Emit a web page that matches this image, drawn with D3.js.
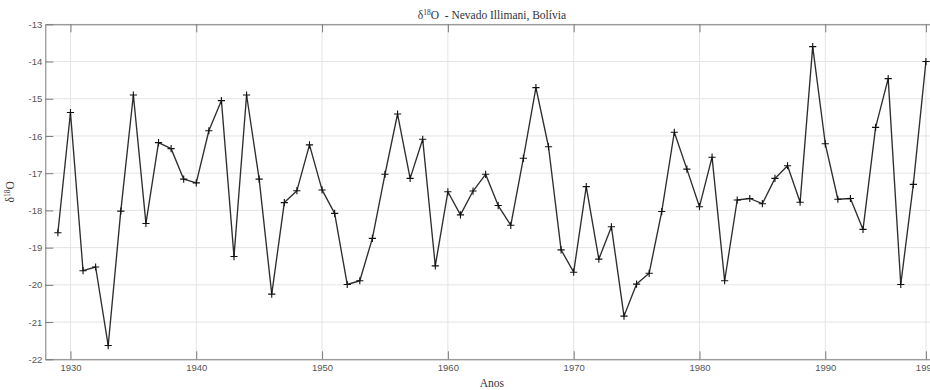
<!DOCTYPE html>
<html>
<head>
<meta charset="utf-8">
<script src="https://cdn.jsdelivr.net/npm/d3@7"></script>
<style>
  html, body { margin: 0; padding: 0; background: #fff; }
  svg { display: block; }
  .tick text { font-family: "Liberation Sans", Arial, sans-serif; font-size: 9.5px; fill: #555; }
  .serif { font-family: "Liberation Serif", "Times New Roman", serif; fill: #333; white-space: pre; }
</style>
</head>
<body>
<svg id="chart" width="930" height="390"></svg>
<script>
// Annual δ18O record, Nevado Illimani ice core (‰)
const years = d3.range(1929, 1999);
const d18O = [
  -18.60, -15.37, -19.62, -19.52, -21.63, -18.02, -14.90, -18.35, -16.18, -16.34,
  -17.16, -17.26, -15.86, -15.05, -19.24, -14.90, -17.16, -20.25, -17.79, -17.47,
  -16.24, -17.45, -18.08, -19.99, -19.89, -18.75, -17.03, -15.41, -17.14, -16.09,
  -19.49, -17.50, -18.12, -17.48, -17.03, -17.87, -18.40, -16.60, -14.70, -16.29,
  -19.06, -19.66, -17.36, -19.31, -18.44, -20.84, -19.98, -19.69, -18.03, -15.90,
  -16.89, -17.90, -16.57, -19.89, -17.72, -17.68, -17.82, -17.14, -16.80, -17.78,
  -13.60, -16.21, -17.70, -17.68, -18.51, -15.77, -14.46, -19.99, -17.30, -14.00
];
const xTicks = [1930, 1940, 1950, 1960, 1970, 1980, 1990, 1998];
const yTicks = [-22, -21, -20, -19, -18, -17, -16, -15, -14, -13];

const svg = d3.select("#chart");
const m = { left: 45.3, top: 24.3, right: 938.5, bottom: 359.3 };

const x = d3.scaleLinear().domain([1928, 1999]).range([m.left, m.right]);
const y = d3.scaleLinear().domain([-22, -13]).range([m.bottom, m.top]);

// grid
const grid = svg.append("g");
grid.selectAll(".gx").data(xTicks).join("line")
  .attr("x1", d => x(d)).attr("x2", d => x(d))
  .attr("y1", m.top).attr("y2", m.bottom)
  .attr("stroke", "#e4e4e4").attr("stroke-width", 1);
grid.selectAll(".gy").data(yTicks).join("line")
  .attr("x1", m.left).attr("x2", m.right)
  .attr("y1", d => y(d)).attr("y2", d => y(d))
  .attr("stroke", "#e4e4e4").attr("stroke-width", 1);

// axes with inward ticks
const tickLen = 8;
const axColor = "#7a7a7a";
const xAxis = svg.append("g").attr("transform", `translate(0,${m.bottom})`)
  .call(d3.axisBottom(x).tickValues(xTicks).tickFormat(d3.format("d"))
    .tickSizeInner(-tickLen).tickSizeOuter(0).tickPadding(5));
const xTop = svg.append("g").attr("transform", `translate(0,${m.top})`)
  .call(d3.axisTop(x).tickValues(xTicks).tickFormat("")
    .tickSizeInner(-tickLen).tickSizeOuter(0));
const yAxis = svg.append("g").attr("transform", `translate(${m.left},0)`)
  .call(d3.axisLeft(y).tickValues(yTicks).tickFormat(d => String(d).replace("−", "-"))
    .tickSizeInner(-tickLen).tickSizeOuter(0).tickPadding(3));
[xAxis, xTop, yAxis].forEach(g => {
  g.select(".domain").attr("stroke", axColor).attr("stroke-width", 1);
  g.selectAll(".tick line").attr("stroke", axColor).attr("stroke-width", 1);
});

// series line
const pts = years.map((yr, i) => [yr, d18O[i]]);
svg.append("path")
  .datum(pts)
  .attr("fill", "none")
  .attr("stroke", "#2e2e2e")
  .attr("stroke-width", 1.35)
  .attr("stroke-linejoin", "round")
  .attr("d", d3.line().x(d => x(d[0])).y(d => y(d[1])));

// plus markers
const s = 3.6;
svg.append("g").selectAll("path").data(pts).join("path")
  .attr("d", d => {
    const cx = x(d[0]), cy = y(d[1]);
    return `M${cx - s},${cy}H${cx + s}M${cx},${cy - s}V${cy + s}`;
  })
  .attr("stroke", "#111").attr("stroke-width", 1.1).attr("fill", "none");

// title
const cx = (m.left + m.right) / 2;
const title = svg.append("text").attr("class", "serif")
  .attr("x", cx).attr("y", 19).attr("text-anchor", "middle")
  .style("font-size", "11.5px");
title.append("tspan").text("δ");
title.append("tspan").attr("dy", -4).style("font-size", "7.5px").text("18");
title.append("tspan").attr("dy", 4).text("O  - Nevado Illimani, Bolívia");

// axis labels
svg.append("text").attr("class", "serif")
  .attr("x", cx).attr("y", 387).attr("text-anchor", "middle")
  .style("font-size", "11.5px").text("Anos");

const yl = svg.append("text").attr("class", "serif")
  .attr("transform", `translate(14,${(m.top + m.bottom) / 2}) rotate(-90)`)
  .attr("text-anchor", "middle").style("font-size", "11.5px");
yl.append("tspan").text("δ");
yl.append("tspan").attr("dy", -4).style("font-size", "7.5px").text("18");
yl.append("tspan").attr("dy", 4).text("O");
</script>
</body>
</html>
